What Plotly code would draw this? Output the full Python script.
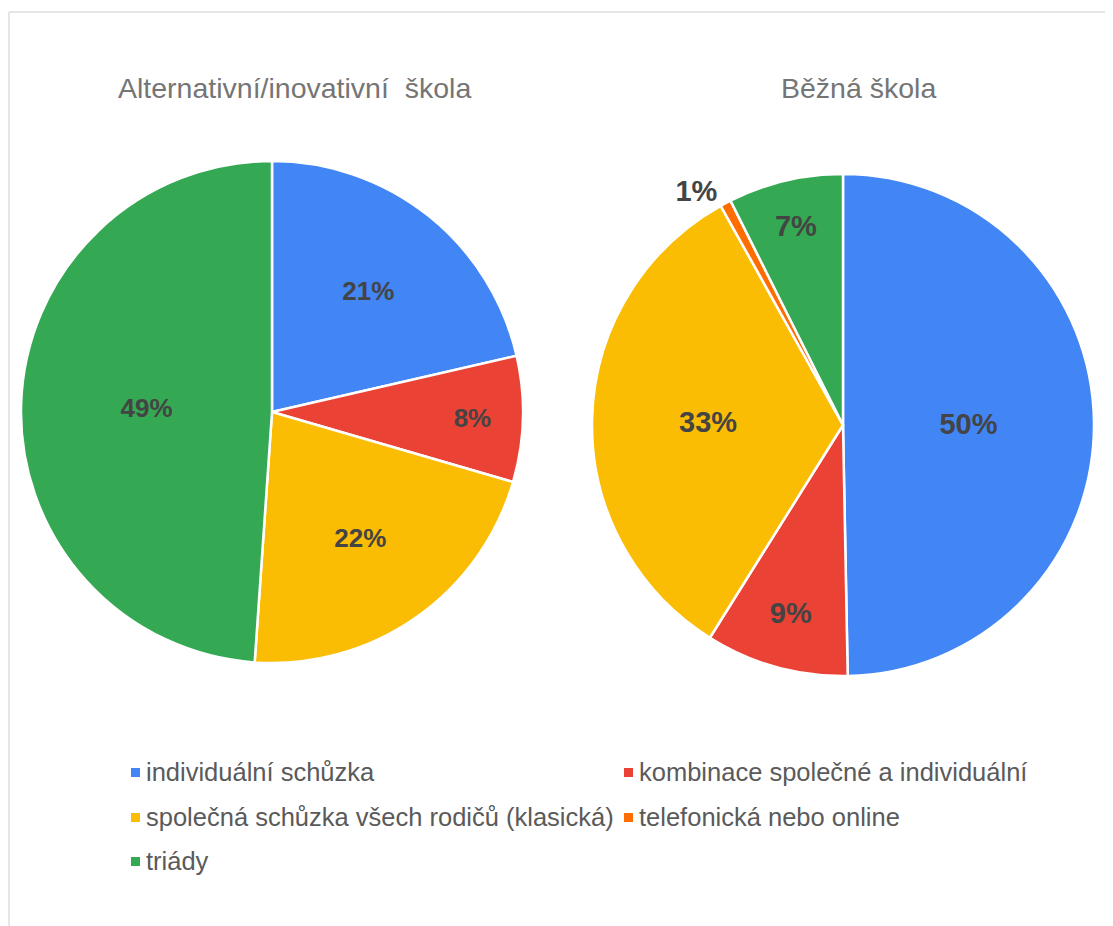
import plotly.graph_objects as go

# ---- data ----
categories = [
    "individuální schůzka",
    "kombinace společné a individuální",
    "společná schůzka všech rodičů (klasická)",
    "telefonická nebo online",
    "triády",
]
colors = ["#4285F4", "#EA4335", "#FBBC04", "#FF6D01", "#34A853"]

left_title = "Alternativní/inovativní  škola"
left_labels = ["individuální schůzka", "kombinace společné a individuální",
               "společná schůzka všech rodičů (klasická)", "triády"]
left_values = [21.4, 8.1, 21.6, 48.9]

right_title = "Běžná škola"
right_labels = ["individuální schůzka", "kombinace společné a individuální",
                "společná schůzka všech rodičů (klasická)", "telefonická nebo online", "triády"]
right_values = [49.7, 9.2, 33.0, 0.7, 7.4]

W, H = 1113, 926
OFF = 8  # page body margin
FONT = "Liberation Sans, Arial, Helvetica, sans-serif"
color_map = dict(zip(categories, colors))


def px_x(v):
    return (v - OFF) / W


def px_y(v):
    return 1 - (v - OFF) / H


def pie(labels, values, dom_x, dom_y, fsize):
    positions = ["outside" if v < 2 else "inside" for v in values]
    f = dict(family=FONT, size=fsize, color="#444444")
    return go.Pie(
        labels=labels,
        values=values,
        sort=False,
        direction="clockwise",
        rotation=0,
        marker=dict(colors=[color_map[l] for l in labels], line=dict(color="white", width=2.5)),
        texttemplate="<b>%{percent:.0%}</b>",
        textposition=positions,
        insidetextorientation="horizontal",
        textfont=f,
        insidetextfont=f,
        outsidetextfont=f,
        domain=dict(x=dom_x, y=dom_y),
        showlegend=False,
        hoverinfo="label+percent",
    )


fig = go.Figure()
fig.add_trace(pie(left_labels, left_values,
                  [px_x(21), px_x(523)], [px_y(663), px_y(161)], 26))
fig.add_trace(pie(right_labels, right_values,
                  [px_x(592), px_x(1094)], [px_y(676), px_y(174)], 29))

annotations = [
    dict(text=left_title, x=px_x(294), y=px_y(88), xref="paper", yref="paper",
         showarrow=False, xanchor="center", yanchor="middle",
         font=dict(family=FONT, size=28.5, color="#757575")),
    dict(text=right_title, x=px_x(858), y=px_y(88), xref="paper", yref="paper",
         showarrow=False, xanchor="center", yanchor="middle",
         font=dict(family=FONT, size=28.5, color="#757575")),
]

shapes = [
    # chart frame (top and left edges)
    dict(type="line", xref="paper", yref="paper", x0=px_x(9), x1=1, y0=px_y(12), y1=px_y(12),
         line=dict(color="#E6E6E6", width=2)),
    dict(type="line", xref="paper", yref="paper", x0=px_x(9), x1=px_x(9), y0=px_y(12), y1=0,
         line=dict(color="#E6E6E6", width=2)),
]

# legend (two columns)
col_x = [131, 624]
row_y = [772, 817, 861]
for i, cat in enumerate(categories):
    cx = col_x[i % 2]
    cy = row_y[i // 2]
    shapes.append(dict(type="rect", xref="paper", yref="paper",
                       x0=px_x(cx), x1=px_x(cx + 9), y0=px_y(cy + 5), y1=px_y(cy - 4),
                       fillcolor=color_map[cat], line=dict(width=0)))
    annotations.append(dict(text=cat, x=px_x(cx + 13), y=px_y(cy), xref="paper", yref="paper",
                            showarrow=False, xanchor="left", yanchor="middle",
                            font=dict(family=FONT, size=25.5, color="#5A5A5A")))

fig.update_layout(
    width=W, height=H,
    margin=dict(l=0, r=0, t=0, b=0),
    paper_bgcolor="white",
    plot_bgcolor="white",
    annotations=annotations,
    shapes=shapes,
    showlegend=False,
)

fig.write_html("out.html")
